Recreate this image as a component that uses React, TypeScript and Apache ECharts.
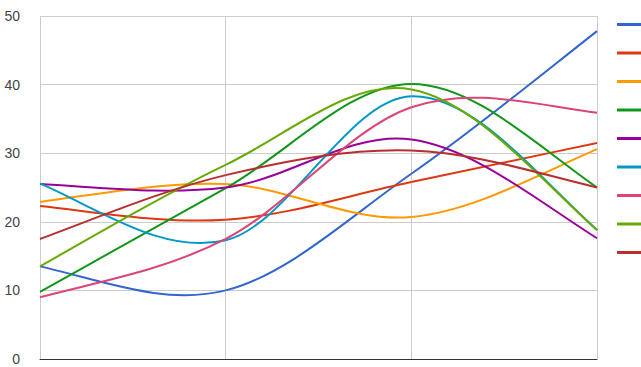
import React, { useEffect, useRef } from "react";
import * as echarts from "echarts";

const categories = ["A", "B", "C", "D"];
const seriesNames = ["S1", "S2", "S3", "S4", "S5", "S6", "S7", "S8", "S9"];
const s1 = [13.5, 10, 27, 47.8];
const s2 = [22.3, 20.3, 25.8, 31.5];
const s3 = [22.9, 25.5, 20.7, 30.6];
const s4 = [9.8, 24.9, 40.1, 25];
const s5 = [25.5, 25, 32, 17.6];
const s6 = [25.6, 17.3, 38.3, 18.8];
const s7 = [9, 17.5, 36.7, 35.9];
const s8 = [13.5, 28.3, 39.3, 18.8];
const s9 = [17.5, 26.8, 30.4, 25];
const allSeries = [s1, s2, s3, s4, s5, s6, s7, s8, s9];
const colors = ["#3366cc", "#dc3912", "#ff9900", "#109618", "#990099", "#0099c6", "#dd4477", "#66aa00", "#b82e2e"];
const yTicks = [0, 10, 20, 30, 40, 50];

type P = [number, number];

function tangents(pts: P[]): P[] {
  const n = pts.length;
  const T: P[] = pts.map(() => [0, 0]);
  for (let k = 1; k < n - 1; k++) {
    T[k] = [(pts[k + 1][0] - pts[k - 1][0]) / 2, (pts[k + 1][1] - pts[k - 1][1]) / 2];
  }
  if (n >= 3) {
    T[0] = [(5 * (pts[1][0] - pts[0][0]) - T[1][0]) / 4, (5 * (pts[1][1] - pts[0][1]) - T[1][1]) / 4];
    T[n - 1] = [
      (5 * (pts[n - 1][0] - pts[n - 2][0]) - T[n - 2][0]) / 4,
      (5 * (pts[n - 1][1] - pts[n - 2][1]) - T[n - 2][1]) / 4,
    ];
  } else if (n === 2) {
    T[0] = [pts[1][0] - pts[0][0], pts[1][1] - pts[0][1]];
    T[1] = T[0];
  }
  return T;
}

export default function App() {
  const ref = useRef<HTMLDivElement>(null);
  useEffect(() => {
    if (!ref.current) return;
    const chart = echarts.init(ref.current, undefined, { renderer: "svg" });
    chart.setOption({
      animation: false,
      color: colors,
      grid: { left: 40, right: 44, top: 16, bottom: 8, containLabel: false },
      legend: {
        orient: "vertical",
        left: 612,
        top: 18,
        itemWidth: 24,
        itemHeight: 3,
        itemGap: 25.5,
        icon: "rect",
        formatter: () => "",
        data: seriesNames,
      },
      xAxis: {
        type: "category",
        data: categories,
        boundaryGap: false,
        axisLine: { lineStyle: { color: "#333", width: 1 } },
        axisTick: { show: false },
        axisLabel: { show: false },
        splitLine: { show: true, lineStyle: { color: "#cccccc" } },
      },
      yAxis: {
        type: "value",
        min: yTicks[0],
        max: yTicks[yTicks.length - 1],
        interval: 10,
        axisLine: { show: false },
        axisTick: { show: false },
        axisLabel: { color: "#444", fontSize: 14, fontFamily: "Liberation Sans, Arial, sans-serif", margin: 20 },
        splitLine: { lineStyle: { color: "#cccccc" } },
      },
      series: allSeries.map((d, i) => ({
        name: seriesNames[i],
        type: "custom",
        data: d.map((v, k) => [k, v]),
        encode: { x: 0, y: 1 },
        itemStyle: { color: colors[i] },
        renderItem: (params: any, api: any) => {
          const idx = params.dataIndex;
          if (idx >= d.length - 1) return { type: "group", children: [] };
          const pts: P[] = d.map((v, k) => api.coord([k, v]) as P);
          const T = tangents(pts);
          const p0 = pts[idx];
          const p1 = pts[idx + 1];
          return {
            type: "bezierCurve",
            shape: {
              x1: p0[0],
              y1: p0[1],
              x2: p1[0],
              y2: p1[1],
              cpx1: p0[0] + T[idx][0] / 3,
              cpy1: p0[1] + T[idx][1] / 3,
              cpx2: p1[0] - T[idx + 1][0] / 3,
              cpy2: p1[1] - T[idx + 1][1] / 3,
            },
            style: { stroke: colors[i], lineWidth: 2, fill: null },
          };
        },
      })),
    });
    return () => chart.dispose();
  }, []);
  return <div ref={ref} style={{ position: "absolute", left: 0, top: 0, width: 641, height: 367 }} />;
}
